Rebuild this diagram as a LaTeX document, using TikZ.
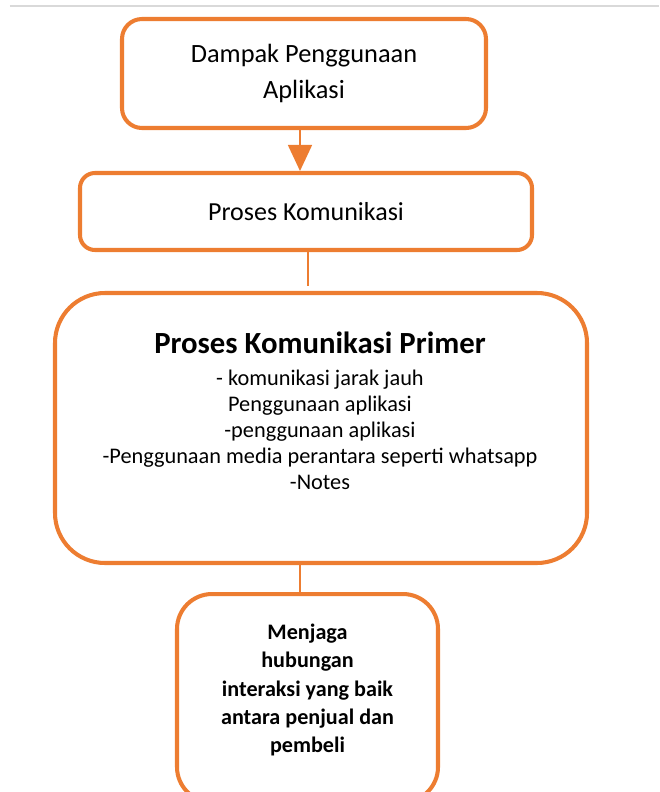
\documentclass[tikz,border=0pt]{standalone}
\usepackage{fontspec}
\setmainfont{Carlito}
\usetikzlibrary{arrows.meta}
\definecolor{boxorange}{HTML}{ED7D31}
\tikzset{
	flowbox/.style={draw=boxorange, line width=2.3pt, fill=white, align=center, inner sep=0pt},
	link/.style={draw=boxorange, line width=0.9pt},
}
\begin{document}
\begin{tikzpicture}
		\useasboundingbox (0,0) rectangle (13.18,-15.84);
		\draw[draw=black!15, line width=1.2pt] (0.2,-0.12) -- (13.18,-0.12);
		\node[flowbox, rounded corners=0.4cm, minimum width=7.28cm, minimum height=2.18cm, font=\fontsize{15}{20}\selectfont] (impact) at (6.08,-1.47) {Dampak Penggunaan\\Aplikasi};
		\node[flowbox, rounded corners=0.3cm, minimum width=9.04cm, minimum height=1.54cm, font=\fontsize{14.8}{17}\selectfont] (process) at (6.12,-4.23) {Proses Komunikasi};
		\node[flowbox, rounded corners=1.0cm, minimum width=10.64cm, minimum height=5.40cm] (primary) at (6.42,-8.56) {};
		\node[anchor=north, align=center, font=\fontsize{12.7}{14.9}\selectfont] (primtext) at (6.40,-6.52) {{\fontsize{17.5}{21}\selectfont\bfseries Proses Komunikasi Primer}\\[3pt]- komunikasi jarak jauh\\Penggunaan aplikasi\\-penggunaan aplikasi\\-Penggunaan media perantara seperti whatsapp\\-Notes};
		\node[flowbox, anchor=north, rounded corners=0.7cm, minimum width=5.22cm, minimum height=4.16cm] (maintain) at (6.15,-11.84) {};
		\node[align=center, font=\fontsize{12.6}{16.1}\bfseries\selectfont] (maintaintext) at (6.15,-13.80) {Menjaga\\hubungan\\interaksi yang baik\\antara penjual dan\\pembeli};
		\draw[link, -{Triangle[width=0.48cm, length=0.52cm]}] (impact.south -| 6.00,0) -- (process.north -| 6.00,0);
		\draw[link] ([xshift=0.04cm]process.south) -- ([xshift=0.04cm, yshift=0.1cm]process.south |- primary.north);
		\draw[link] ([xshift=-0.42cm]primary.south) -- ([xshift=-0.42cm]primary.south |- maintain.north);
	\end{tikzpicture}
\end{document}
